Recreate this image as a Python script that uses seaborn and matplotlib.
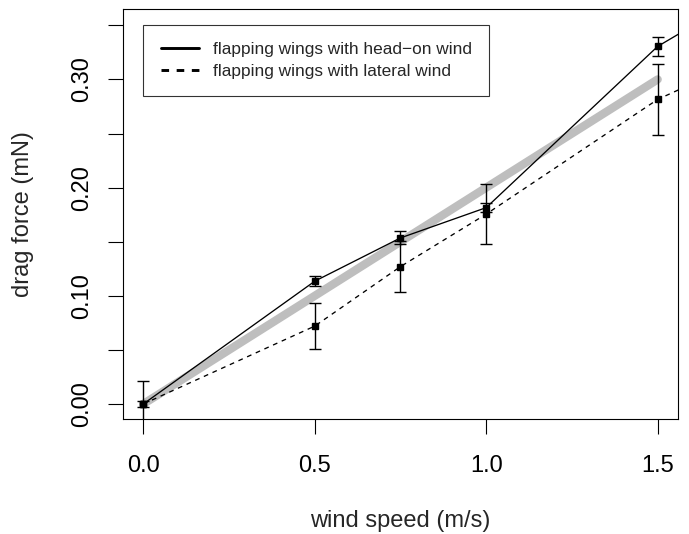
import numpy as np
import pandas as pd
import matplotlib
matplotlib.use("Agg")
import matplotlib.pyplot as plt
import seaborn as sns
from matplotlib.lines import Line2D

# ---- data ----
wind_speed = [0.0, 0.5, 0.75, 1.0, 1.5, 2.0]
head_on = [0.000, 0.1135, 0.1535, 0.1815, 0.3305, 0.424]
head_on_err = [0.003, 0.0045, 0.006, 0.0045, 0.009, 0.0]
lateral = [0.000, 0.0720, 0.1270, 0.1755, 0.2815, 0.354]
lateral_err = [0.0215, 0.021, 0.0235, 0.0275, 0.033, 0.0]
fit_x = [0.0, 1.5]
fit_y = [0.0, 0.30]
series_names = ["flapping wings with head\u2212on wind", "flapping wings with lateral wind"]
x_ticks = [0.0, 0.5, 1.0, 1.5]
x_ticklabels = ["0.0", "0.5", "1.0", "1.5"]
y_ticks = [0.0, 0.05, 0.10, 0.15, 0.20, 0.25, 0.30, 0.35]
y_ticklabels = ["0.00", "", "0.10", "", "0.20", "", "0.30", ""]

df = pd.DataFrame({
    "wind": wind_speed * 2,
    "force": head_on + lateral,
    "series": [series_names[0]] * len(wind_speed) + [series_names[1]] * len(wind_speed),
})

sns.set_style("ticks")
plt.rcParams["font.family"] = ["Liberation Sans", "DejaVu Sans"]

fig = plt.figure(figsize=(6.89, 5.34), dpi=100)
ax = fig.add_axes([123 / 689, (534 - 419) / 534, (678 - 123) / 689, (419 - 9.3) / 534])

# thick grey reference line
ax.plot(fit_x, fit_y, color="#BEBEBE", lw=6, solid_capstyle="round", zorder=1)

sns.lineplot(data=df, x="wind", y="force", style="series",
             dashes={series_names[0]: "", series_names[1]: (3.6, 3.6)},
             color="black", lw=0.95, legend=False, ax=ax, zorder=2,
             estimator=None, sort=False)

for ys, es in [(head_on, head_on_err), (lateral, lateral_err)]:
    ax.errorbar(wind_speed, ys, yerr=es, fmt="s", color="black", ms=3.8,
                elinewidth=1.0, capsize=4, capthick=1.0, zorder=3)

ax.set_xlim(-0.0592, 1.5593)
ax.set_ylim(-0.01386, 0.3648)

ax.set_xticks(x_ticks)
ax.set_xticklabels(x_ticklabels)
ax.set_yticks(y_ticks)
ax.set_yticklabels(y_ticklabels, rotation=90, va="center")

ax.tick_params(axis="both", direction="out", length=10.8, width=0.8, color="black",
               labelsize=17, labelcolor="black")
ax.tick_params(axis="x", pad=15)
ax.tick_params(axis="y", pad=10.5)

for s in ax.spines.values():
    s.set_linewidth(0.8)
    s.set_color("black")

ax.set_xlabel("wind speed (m/s)", fontsize=17)
ax.set_ylabel("drag force (mN)", fontsize=17)
ax.xaxis.set_label_coords(0.5, (419 - 521) / (419 - 9.3))
ax.xaxis.label.set_va("center")
ax.yaxis.set_label_coords((23 - 123) / 555, 0.5)
ax.yaxis.label.set_va("center")

handles = [Line2D([], [], color="black", lw=2.1),
           Line2D([], [], color="black", lw=2.1, linestyle=(0, (2.6, 2.6)))]
leg = ax.legend(handles, series_names, loc="upper left",
                bbox_to_anchor=((143.3 - 123) / 555, (419 - 25) / 409.7),
                borderaxespad=0, fontsize=12.4, handlelength=2.25,
                handletextpad=0.8, borderpad=1.0, labelspacing=0.37,
                fancybox=False, frameon=True)
leg.get_frame().set_edgecolor("black")
leg.get_frame().set_linewidth(0.8)

fig.savefig("out.png", dpi=100)
